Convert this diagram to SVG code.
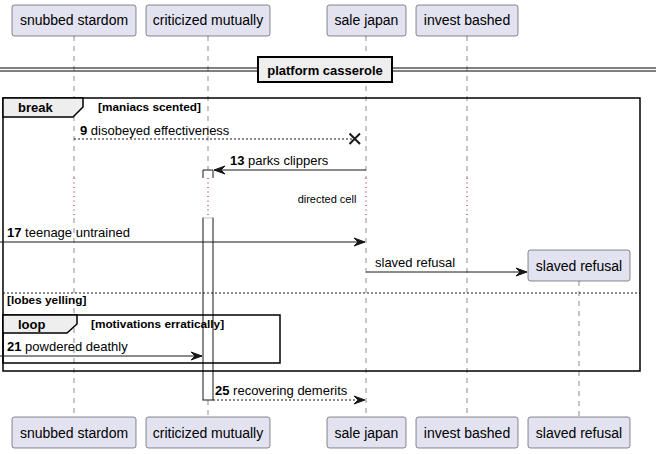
<svg xmlns="http://www.w3.org/2000/svg" width="656" height="454" viewBox="0 0 656 454">
<style>
.p{fill:#E2E2F0;stroke:#181818;stroke-width:0.5}
.pt{font-family:"Liberation Sans",Arial,sans-serif;font-size:14px;fill:#000}
.ll{stroke:#181818;stroke-width:0.5;stroke-dasharray:5,5;fill:none}
.dl{stroke:#B0004A;stroke-width:1;stroke-dasharray:1,3.5;fill:none}
.m{stroke:#181818;stroke-width:1;fill:none}
.md{stroke:#181818;stroke-width:1;fill:none;stroke-dasharray:2,2}
.t{font-family:"Liberation Sans",Arial,sans-serif;font-size:13px;fill:#000}
.b{font-weight:bold}
.g{font-family:"Liberation Sans",Arial,sans-serif;font-size:11.8px;font-weight:bold;fill:#000}
.fr{stroke:#000;stroke-width:1.5;fill:none}
.tab{fill:#EEEEEE;stroke:#000;stroke-width:1.5}
</style>
<defs>
<marker id="ah" viewBox="0 0 12 10" refX="11" refY="5" markerWidth="12" markerHeight="10" markerUnits="userSpaceOnUse" orient="auto">
<path d="M0,1 L11,5 L0,9 L4,5 Z" fill="#181818" stroke="#181818" stroke-width="1"/>
</marker>
</defs>
<g id="lifelines">
<path class="ll" d="M74,36 V178 M74,218 V417"/>
<path class="ll" d="M208,36 V170 M208,400 V417"/>
<path class="ll" d="M366,36 V178 M366,218 V417"/>
<path class="ll" d="M467,36 V178 M467,218 V417"/>
<path class="ll" d="M579,281 V417"/>
<path class="dl" d="M74,178 V218 M208,178 V218 M366,178 V218 M467,178 V218"/>
</g>
<g id="activation">
<path d="M203,178 V170 H213 V178" fill="#fff" stroke="#181818" stroke-width="1"/>
<rect x="203" y="218" width="10" height="182" fill="#fff" stroke="#181818" stroke-width="1"/>
<path d="M203.5,218 H212.5" stroke="#fff" stroke-width="1.5"/>
</g>
<g id="divider">
<path d="M0,68 H656 M0,71 H656" stroke="#000" stroke-width="1"/>
<rect x="258" y="57" width="134" height="25" fill="#EEEEEE" stroke="#000" stroke-width="2"/>
<text class="t b" x="325" y="74.5" text-anchor="middle" font-size="13.9">platform casserole</text>
</g>
<g id="break">
<rect class="fr" x="3" y="98" width="637" height="273"/>
<path class="tab" d="M3,98 H83 V107 L73,117 H3 Z"/>
<text class="t b" x="18" y="112">break</text>
<text class="g" x="98" y="111">[maniacs scented]</text>
<path class="md" d="M3,293 H640"/>
<text class="g" x="7" y="304">[lobes yelling]</text>
</g>
<g id="loop">
<rect class="fr" x="3" y="315" width="277" height="48"/>
<path class="tab" d="M3,315 H77 V324 L67,333 H3 Z"/>
<text class="t b" x="18" y="329">loop</text>
<text class="g" x="91" y="328">[motivations erratically]</text>
</g>
<g id="connectors">
<path class="md" d="M74,139 H355"/>
<path d="M349.5,133.5 L360,144 M349.5,144 L360,133.5" stroke="#181818" stroke-width="2"/>
<text class="t" x="80" y="135"><tspan class="b">9</tspan> disobeyed effectiveness</text>
<path class="m" d="M366,170 H214" marker-end="url(#ah)"/>
<text class="t" x="230" y="165"><tspan class="b">13</tspan> parks clippers</text>
<text x="327" y="203" text-anchor="middle" font-family="Liberation Sans,Arial,sans-serif" font-size="11" fill="#000">directed cell</text>
<path class="m" d="M0,242 H365" marker-end="url(#ah)"/>
<text class="t" x="7" y="237"><tspan class="b">17</tspan> teenage untrained</text>
<path class="m" d="M366,272 H527" marker-end="url(#ah)"/>
<text class="t" x="375" y="267">slaved refusal</text>
<path class="m" d="M0,356 H202" marker-end="url(#ah)"/>
<text class="t" x="7" y="351"><tspan class="b">21</tspan> powdered deathly</text>
<path class="md" d="M213,400 H365" marker-end="url(#ah)"/>
<text class="t" x="215" y="395"><tspan class="b">25</tspan> recovering demerits</text>
</g>
<g id="p1">
<rect class="p" x="12" y="5" width="124" height="31" rx="2.5"/>
<text class="pt" x="74" y="25" text-anchor="middle">snubbed stardom</text>
<rect class="p" x="12" y="417" width="124" height="31" rx="2.5"/>
<text class="pt" x="74" y="438" text-anchor="middle">snubbed stardom</text>
</g>
<g id="p2">
<rect class="p" x="146" y="5" width="124" height="31" rx="2.5"/>
<text class="pt" x="208" y="25" text-anchor="middle">criticized mutually</text>
<rect class="p" x="146" y="417" width="124" height="31" rx="2.5"/>
<text class="pt" x="208" y="438" text-anchor="middle">criticized mutually</text>
</g>
<g id="p3">
<rect class="p" x="327" y="5" width="79" height="31" rx="2.5"/>
<text class="pt" x="366.5" y="25" text-anchor="middle">sale japan</text>
<rect class="p" x="327" y="417" width="79" height="31" rx="2.5"/>
<text class="pt" x="366.5" y="438" text-anchor="middle">sale japan</text>
</g>
<g id="p4">
<rect class="p" x="416" y="5" width="102" height="31" rx="2.5"/>
<text class="pt" x="467" y="25" text-anchor="middle">invest bashed</text>
<rect class="p" x="416" y="417" width="102" height="31" rx="2.5"/>
<text class="pt" x="467" y="438" text-anchor="middle">invest bashed</text>
</g>
<g id="p5">
<rect class="p" x="528" y="250" width="102" height="31" rx="2.5"/>
<text class="pt" x="579" y="271" text-anchor="middle">slaved refusal</text>
<rect class="p" x="528" y="417" width="102" height="31" rx="2.5"/>
<text class="pt" x="579" y="438" text-anchor="middle">slaved refusal</text>
</g>
</svg>
